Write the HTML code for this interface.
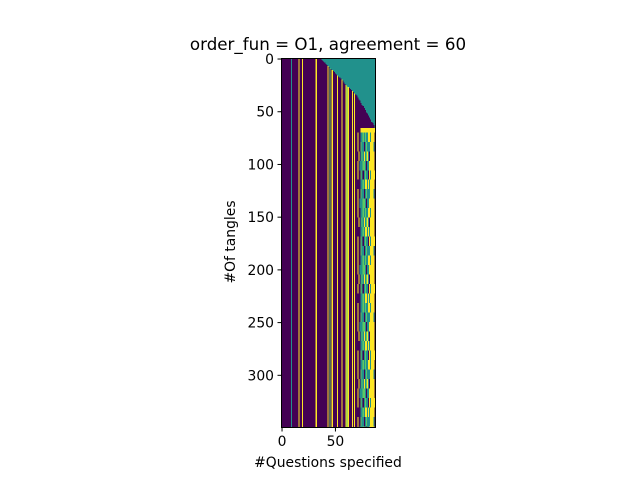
<!DOCTYPE html>
<html><head><meta charset="utf-8"><style>
body{margin:0;width:640px;height:480px;background:#fff;overflow:hidden;font-family:"DejaVu Sans","Liberation Sans",sans-serif;}
#wrap{position:relative;width:640px;height:480px;}
svg{position:absolute;left:0;top:0;}
</style></head><body>
<div id="wrap">
<svg width="640" height="480">
<g id="cells" shape-rendering="crispEdges"></g>
<text x="328" y="50" font-size="16.7" text-anchor="middle">order_fun = O1, agreement = 60</text>
<rect x="281.5" y="58.5" width="94" height="369" fill="none" stroke="#000" stroke-width="1"/>
<g id="yt"></g>
<g id="xt"></g>
<text x="0" y="0" font-size="13.9" text-anchor="middle" transform="translate(235,242) rotate(-90)">#Of tangles</text>
<text x="328" y="467" font-size="13.9" text-anchor="middle">#Questions specified</text>
</svg>
</div>
<script>
const nCols = 88;
const nRows = 350;
const yTicks = [0, 50, 100, 150, 200, 250, 300];
const xTicks = [0, 50];
// 0 purple, 1 teal, 2 yellow, 3 green
const colBase = {9:1,16:2,19:2,32:2,43:2,45:3,47:2,52:2,56:2,60:2,61:3,62:2,66:2,68:2};
const specStart = [0,0,0,0,0,0,0,0,0,0,0,0,0,0,0,0,0,0,0,0,0,0,0,0,0,0,0,0,0,0,
0,0,0,0,0,0,0,1,2,3,4,5,6,7,8,9,10,11,12,13,14,15,16,17,18,19,20,21,23,24,
25,26,27,28,29,30,31,32,33,34,35,37,39,40,42,44,45,47,49,51,52,54,56,58,60,61,63,66];
const bandPatterns = [
"pyppttgtgttyytyyyp",
"pyppgttptgtttyyytp",
"ppyptgtytgytpyyyyp",
"pyptttggtpttyyyyyp",
"pyppgtptgttpytyyyy",
"ppppttgtyytytyyyyp"];
const bandOrder = [0,1,2,3,4,5,1,3,0,2,5,4,1,0,3,2,4,5,0,1,3,2,5,4];
const bandHeight = 9;
const colors = ["#440154","#21918c","#fde725","#5ec962"];
const charVal = {p:0,t:1,y:2,g:3};
const ns = "http://www.w3.org/2000/svg";
const L = 281.5, T = 58.5, W = 94, H = 369;
const xs = c => L + c * W / nCols;
const ys = r => T + r * H / nRows;
function cellVal(c, r) {
  if (r < specStart[c]) return 1;
  if (c >= 70) {
    if (r < 66) return 0;
    if (r < 70) return c >= 74 ? 2 : 0;
    const b = Math.floor((r - 70) / bandHeight);
    return charVal[bandPatterns[bandOrder[b % bandOrder.length]][c - 70]];
  }
  return colBase[c] || 0;
}
const g = document.getElementById('cells');
for (let c = 0; c < nCols; c++) {
  let start = 0, cur = cellVal(c, 0);
  for (let r = 1; r <= nRows; r++) {
    const v = r < nRows ? cellVal(c, r) : -1;
    if (v !== cur) {
      const rc = document.createElementNS(ns, 'rect');
      
      
      rc.setAttribute('x', xs(c)); rc.setAttribute('y', ys(start));
      rc.setAttribute('width', xs(c+1) - xs(c) + 0.05); rc.setAttribute('height', ys(r) - ys(start));
      rc.setAttribute('fill', colors[cur]);
      g.appendChild(rc);
      start = r; cur = v;
    }
  }
}
const yg = document.getElementById('yt'), xg = document.getElementById('xt');
const X = c => L + (c + 0.5) * W / nCols;
const Y = r => T + (r + 0.5) * H / nRows;
yTicks.forEach(t => {
  const l = document.createElementNS(ns,'line');
  
  
  l.setAttribute('x1',281.5); l.setAttribute('x2',277.5); l.setAttribute('y1',Y(t)); l.setAttribute('y2',Y(t)); l.setAttribute('stroke','#000');
  yg.appendChild(l);
  const tx = document.createElementNS(ns,'text');
  
  
  tx.setAttribute('x',274); tx.setAttribute('y',Y(t)+5); tx.setAttribute('text-anchor','end'); tx.setAttribute('font-size','13.9');
  tx.textContent = t; yg.appendChild(tx);
});
xTicks.forEach(t => {
  const l = document.createElementNS(ns,'line');
  
  
  l.setAttribute('x1',X(t)); l.setAttribute('x2',X(t)); l.setAttribute('y1',427.5); l.setAttribute('y2',431.5); l.setAttribute('stroke','#000');
  xg.appendChild(l);
  const tx = document.createElementNS(ns,'text');
  
  
  tx.setAttribute('x',X(t)); tx.setAttribute('y',446); tx.setAttribute('text-anchor','middle'); tx.setAttribute('font-size','13.9');
  tx.textContent = t; xg.appendChild(tx);
});
</script>
</body></html>
